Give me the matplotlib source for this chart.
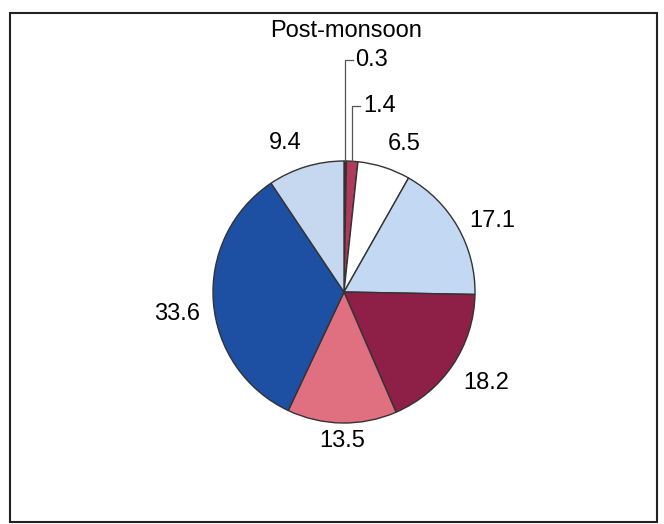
import matplotlib.pyplot as plt
from matplotlib.patches import Rectangle
import numpy as np

plt.rcParams['font.family'] = ['Liberation Sans', 'DejaVu Sans']

# shares, clockwise from 12 o'clock
values = [0.3, 1.4, 6.5, 17.1, 18.2, 13.5, 33.6, 9.4]
labels = ['0.3', '1.4', '6.5', '17.1', '18.2', '13.5', '33.6', '9.4']
colors = ['#3a2a3a', '#b03a5b', '#ffffff', '#c3d8f2',
          '#8e1f47', '#e0707f', '#1d4fa3', '#c6d8f0']
title = 'Post-monsoon'

fig = plt.figure(figsize=(6.64, 5.24), dpi=100)

# pie box in pixels: x 205..485, y 163..432 (from top), radius ~131 px
W, H = 664, 524
ax = fig.add_axes([205 / W, (H - 432) / H, 280 / W, 269 / H])
ax.set_facecolor('#f6f6f6')

shown = [l if v >= 5 else '' for v, l in zip(values, labels)]
wedges, texts = ax.pie(values, labels=shown, colors=colors, startangle=90,
                       counterclock=False, labeldistance=1.1,
                       wedgeprops=dict(edgecolor='#333333', linewidth=1.0),
                       textprops=dict(fontsize=17))

# small slices: labels with leader lines
small = [(0, 1.77, 0.085), (1, 1.42, 0.145)]
for i, ystub, xlab in small:
    w = wedges[i]
    mid = np.deg2rad((w.theta1 + w.theta2) / 2)
    x0 = np.cos(mid)
    ax.plot([x0, x0, xlab - 0.02], [np.sin(mid), ystub, ystub],
            color='#555555', lw=0.9, clip_on=False)
    ax.text(xlab, ystub, labels[i], fontsize=17, ha='left', va='center')

for t, l in zip(texts, shown):
    if not l:
        continue
    x, y = t.get_position()
    if l == '13.5':
        t.set_ha('center')
        t.set_va('center')
        t.set_position((x, y - 0.04))
    elif y > 0.8:
        t.set_va('bottom')
    elif y < -0.05:
        t.set_va('top')

ax.set_xlim(-139 / 131, 141 / 131)
ax.set_ylim(-140 / 131, 129 / 131)
ax.set_aspect('auto')
for s in ax.spines.values():
    s.set_visible(False)

fig.text(346 / W, 1 - 31 / H, title, fontsize=17, ha='center', va='center')

fig.patches.append(Rectangle((10 / W, 2 / H), 647 / W, 509 / H,
                             transform=fig.transFigure, fill=False,
                             edgecolor='#222222', linewidth=1.5))

fig.savefig('out.png', dpi=100)
